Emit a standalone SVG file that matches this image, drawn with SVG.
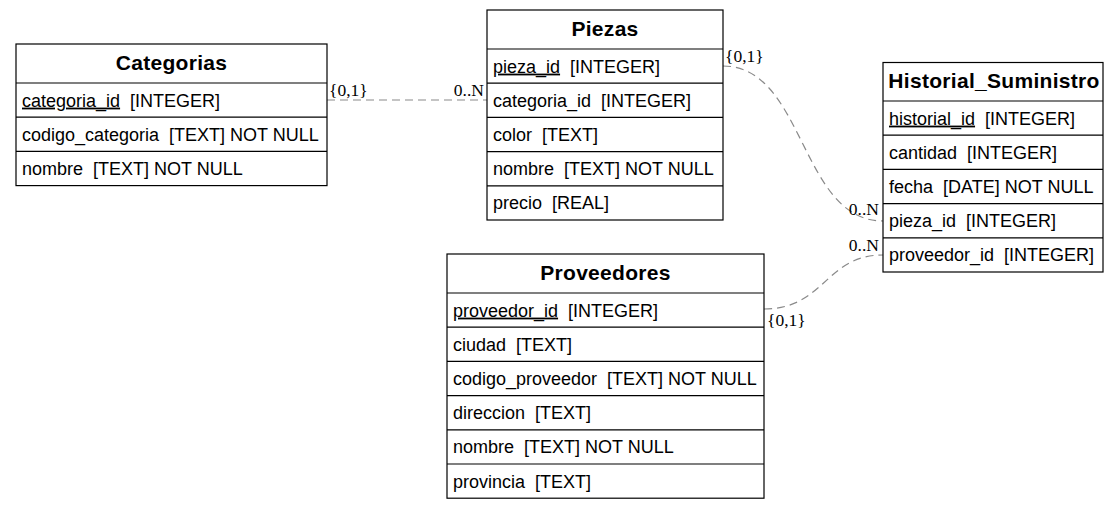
<svg xmlns="http://www.w3.org/2000/svg" width="1120" height="510" viewBox="0 0 1120 510">
<style>
.box{fill:#fff;stroke:#000;stroke-width:1.2}
.sep{stroke:#000;stroke-width:1.2}
.title{font-family:"Liberation Sans",Arial,sans-serif;font-weight:bold;font-size:21px;letter-spacing:0.3px;text-anchor:middle;fill:#000}
.row{font-family:"Liberation Sans",Arial,sans-serif;font-size:18px;fill:#000;white-space:pre}
.pk{text-decoration:underline}
.conn{fill:none;stroke:#8a8a8a;stroke-width:1.2;stroke-dasharray:8,5}
.lbl{font-family:"Liberation Serif","Times New Roman",serif;font-size:17.5px;fill:#000}
</style>
<rect width="1120" height="510" fill="#fff"/>
<g id="connectors">
<path class="conn" d="M327,100 L487,100"/>
<path class="conn" d="M723,66 C805,66 800,221 883,221"/>
<path class="conn" d="M764,309 C825,309 825,255 883,255"/>
<text class="lbl" x="329" y="96">{0,1}</text>
<text class="lbl" x="484" y="96" text-anchor="end">0..N</text>
<text class="lbl" x="725" y="62">{0,1}</text>
<text class="lbl" x="879" y="215" text-anchor="end">0..N</text>
<text class="lbl" x="879" y="251" text-anchor="end">0..N</text>
<text class="lbl" x="767" y="326">{0,1}</text>
</g>
<g id="Categorias">
<rect class="box" x="16" y="44" width="311" height="141.6"/>
<line class="sep" x1="16" y1="83" x2="327" y2="83"/>
<line class="sep" x1="16" y1="117.2" x2="327" y2="117.2"/>
<line class="sep" x1="16" y1="151.4" x2="327" y2="151.4"/>
<text class="title" x="171.5" y="70">Categorias</text>
<text class="row" x="22" y="106.6"><tspan class="pk">categoria_id</tspan>  [INTEGER]</text>
<text class="row" x="22" y="140.8">codigo_categoria  [TEXT] NOT NULL</text>
<text class="row" x="22" y="175">nombre  [TEXT] NOT NULL</text>
</g>
<g id="Piezas">
<rect class="box" x="487" y="10" width="236" height="210"/>
<line class="sep" x1="487" y1="49" x2="723" y2="49"/>
<line class="sep" x1="487" y1="83.2" x2="723" y2="83.2"/>
<line class="sep" x1="487" y1="117.4" x2="723" y2="117.4"/>
<line class="sep" x1="487" y1="151.6" x2="723" y2="151.6"/>
<line class="sep" x1="487" y1="185.8" x2="723" y2="185.8"/>
<text class="title" x="605" y="36">Piezas</text>
<text class="row" x="493" y="72.6"><tspan class="pk">pieza_id</tspan>  [INTEGER]</text>
<text class="row" x="493" y="106.8">categoria_id  [INTEGER]</text>
<text class="row" x="493" y="141">color  [TEXT]</text>
<text class="row" x="493" y="175.2">nombre  [TEXT] NOT NULL</text>
<text class="row" x="493" y="209.4">precio  [REAL]</text>
</g>
<g id="Historial_Suministro">
<rect class="box" x="883" y="62.5" width="220" height="209.5"/>
<line class="sep" x1="883" y1="101" x2="1103" y2="101"/>
<line class="sep" x1="883" y1="135.2" x2="1103" y2="135.2"/>
<line class="sep" x1="883" y1="169.4" x2="1103" y2="169.4"/>
<line class="sep" x1="883" y1="203.6" x2="1103" y2="203.6"/>
<line class="sep" x1="883" y1="237.8" x2="1103" y2="237.8"/>
<text class="title" x="994" y="88">Historial_Suministro</text>
<text class="row" x="889" y="124.6"><tspan class="pk">historial_id</tspan>  [INTEGER]</text>
<text class="row" x="889" y="158.8">cantidad  [INTEGER]</text>
<text class="row" x="889" y="193">fecha  [DATE] NOT NULL</text>
<text class="row" x="889" y="227.2">pieza_id  [INTEGER]</text>
<text class="row" x="889" y="261.4">proveedor_id  [INTEGER]</text>
</g>
<g id="Proveedores">
<rect class="box" x="447" y="254" width="317" height="244.2"/>
<line class="sep" x1="447" y1="293" x2="764" y2="293"/>
<line class="sep" x1="447" y1="327.2" x2="764" y2="327.2"/>
<line class="sep" x1="447" y1="361.4" x2="764" y2="361.4"/>
<line class="sep" x1="447" y1="395.6" x2="764" y2="395.6"/>
<line class="sep" x1="447" y1="429.8" x2="764" y2="429.8"/>
<line class="sep" x1="447" y1="464" x2="764" y2="464"/>
<text class="title" x="605.5" y="280">Proveedores</text>
<text class="row" x="453" y="316.6"><tspan class="pk">proveedor_id</tspan>  [INTEGER]</text>
<text class="row" x="453" y="350.8">ciudad  [TEXT]</text>
<text class="row" x="453" y="385">codigo_proveedor  [TEXT] NOT NULL</text>
<text class="row" x="453" y="419.2">direccion  [TEXT]</text>
<text class="row" x="453" y="453.4">nombre  [TEXT] NOT NULL</text>
<text class="row" x="453" y="487.6">provincia  [TEXT]</text>
</g>
</svg>
